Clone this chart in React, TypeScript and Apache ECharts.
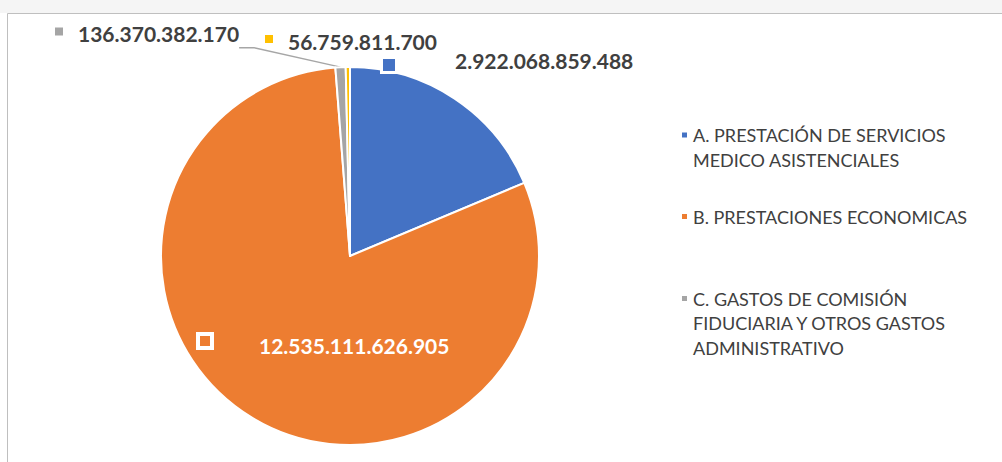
import React, { useEffect, useRef } from 'react';
import * as echarts from 'echarts';

const categories = [
  'A. PRESTACIÓN DE SERVICIOS MEDICO ASISTENCIALES',
  'B. PRESTACIONES ECONOMICAS',
  'C. GASTOS DE COMISIÓN FIDUCIARIA Y OTROS GASTOS ADMINISTRATIVO',
  'D',
];
const legendLines = [
  ['A. PRESTACIÓN DE SERVICIOS', 'MEDICO ASISTENCIALES'],
  ['B. PRESTACIONES ECONOMICAS'],
  ['C. GASTOS DE COMISIÓN', 'FIDUCIARIA Y OTROS GASTOS', 'ADMINISTRATIVO'],
];
const values = [2922068859488, 12535111626905, 136370382170, 56759811700];
const colors = ['#4472C4', '#ED7D31', '#A5A5A5', '#FFC000'];

const FONT = 'Lato, "Open Sans", sans-serif';
const textPos = [
  { x: 455, y: 60 },
  { x: 259, y: 345 },
  { x: 78, y: 47 },
  { x: 288, y: 41 },
];
const markerPos = [
  { x: 389, y: 65 },
  { x: 205, y: 341 },
  { x: 59, y: 31.5 },
  { x: 269, y: 39 },
];
const markerStyle = [
  { width: 12, height: 12, backgroundColor: colors[0], borderColor: '#fff', borderWidth: 3 },
  { width: 10, height: 10, backgroundColor: colors[1], borderColor: '#fff', borderWidth: 4 },
  { width: 8, height: 8, backgroundColor: colors[2] },
  { width: 8, height: 8, backgroundColor: colors[3] },
];
const legendTops = [98.25, 204.25, 237.25];
const LH = 24.5;

function fmt(v: number): string {
  return String(v).replace(/\B(?=(\d{3})+(?!\d))/g, '.');
}

export default function App() {
  const ref = useRef<HTMLDivElement>(null);
  useEffect(() => {
    if (!ref.current) return;
    const chart = echarts.init(ref.current, undefined, { renderer: 'svg' });
    const center = [350, 256];
    const radius = 189;
    chart.setOption({
      animation: false,
      backgroundColor: '#fff',
      graphic: [
        { type: 'rect', silent: true, z: -10, shape: { x: 0, y: 0, width: 1002, height: 13 }, style: { fill: '#F5F5F5' } },
        { type: 'rect', silent: true, z: -10, shape: { x: 7.5, y: 13.5, width: 1200, height: 600 }, style: { fill: 'none', stroke: '#BFBFBF', lineWidth: 1 } },
      ],
      legend: legendLines.map((lines, i) => ({
        orient: 'vertical',
        left: 680,
        top: legendTops[i],
        padding: 0,
        itemWidth: 7,
        itemHeight: 7,
        icon: 'rect',
        selectedMode: false,
        data: [{ name: categories[i], itemStyle: { color: colors[i] } }],
        // leading blank lines keep the key aligned with the first text line
        formatter: () => new Array(lines.length - 1).fill('').concat(lines).join('\n'),
        textStyle: {
          fontFamily: FONT,
          fontSize: 18,
          color: '#404040',
          lineHeight: LH,
        },
      })),
      series: [
        {
          type: 'pie',
          center,
          radius,
          startAngle: 90,
          clockwise: true,
          avoidLabelOverlap: false,
          emphasis: { disabled: true },
          itemStyle: { borderColor: '#fff', borderWidth: 2 },
          label: {
            show: true,
            position: 'outside',
            formatter: (p: any) =>
              p.dataIndex === 2 ? '{t|' + fmt(p.value) + '}{s|}\n{b|}' : '{t|' + fmt(p.value) + '}',
            fontFamily: FONT,
            fontWeight: 'bold',
            fontSize: 21,
            color: '#404040',
            rich: {
              t: { fontFamily: FONT, fontWeight: 'bold', fontSize: 21, lineHeight: 24 },
              s: { width: 5, height: 1 },
              b: { height: 28, lineHeight: 28 },
            },
          },
          labelLine: { show: false, lineStyle: { color: '#A6A6A6', width: 1.3 }, length: 10, length2: 15 },
          labelLayout: (p: any) => ({
            x: textPos[p.dataIndex].x,
            y: textPos[p.dataIndex].y,
            align: 'left',
            verticalAlign: 'middle',
          }),
          data: values.map((v, i) => ({
            name: categories[i],
            value: v,
            itemStyle: { color: colors[i] },
            label: { color: i === 1 ? '#ffffff' : '#404040' },
            labelLine: { show: i === 2 },
          })),
        },
        {
          type: 'pie',
          center,
          radius,
          startAngle: 90,
          clockwise: true,
          silent: true,
          avoidLabelOverlap: false,
          emphasis: { disabled: true },
          itemStyle: { color: 'rgba(0,0,0,0)', borderWidth: 0 },
          label: { show: true, position: 'outside', formatter: '{m|}' },
          labelLine: { show: false },
          labelLayout: (p: any) => ({
            x: markerPos[p.dataIndex].x,
            y: markerPos[p.dataIndex].y,
            align: 'center',
            verticalAlign: 'middle',
          }),
          data: values.map((v, i) => ({
            name: categories[i],
            value: v,
            itemStyle: { color: 'rgba(0,0,0,0)' },
            label: { rich: { m: markerStyle[i] } },
          })),
        },
      ],
    });
    return () => chart.dispose();
  }, []);
  return <div ref={ref} style={{ position: 'fixed', left: 0, top: 0, width: 1002, height: 462 }} />;
}
